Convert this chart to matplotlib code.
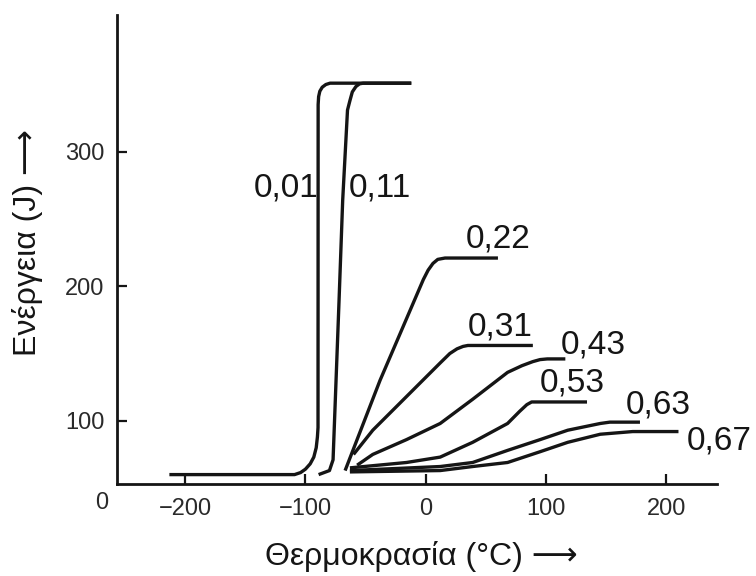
import matplotlib
matplotlib.use("Agg")
import matplotlib.pyplot as plt

plt.rcParams['font.family'] = ['Liberation Sans', 'DejaVu Sans']

# ---- data ----
labels = ["0,01", "0,11", "0,22", "0,31", "0,43", "0,53", "0,63", "0,67"]

t_001 = [-213, -109, -104, -100, -96, -93, -91, -90, -89.5, -89.4, -89, -88, -86, -83, -79.5, -12]
e_001 = [60, 60, 61.5, 64, 68, 73, 80, 88, 95, 335, 341, 345, 348, 350, 351, 351]

t_011 = [-89, -80, -77, -72, -69, -65, -63, -61, -58, -55, -52, -12]
e_011 = [60, 63, 71, 190, 264, 331, 338, 344.5, 348.5, 350.5, 351, 351]

t_022 = [-67, -38, -2, 2, 6, 10, 16, 60]
e_022 = [63, 130, 205, 212, 217, 220, 221, 221]

t_031 = [-60, -44, -16, 12, 20, 26, 31, 35, 89]
e_031 = [75, 93, 118, 143, 150, 153.5, 155.3, 156, 156]

t_043 = [-57, -44, -16, 12, 39, 68, 80, 89, 95, 101, 116]
e_043 = [67, 75, 86, 98, 116, 136, 141, 144, 145.5, 146, 146]

t_053 = [-63, -16, 12, 39, 68, 78, 84, 88, 134]
e_053 = [65, 69, 73, 84, 98, 107, 112, 114, 114]

t_063 = [-63, 12, 39, 68, 95, 118, 145, 153, 178]
e_063 = [63, 66, 69, 78, 86, 93, 98, 99, 99]

t_067 = [-63, 12, 39, 68, 95, 118, 145, 172, 181, 210]
e_067 = [62, 63, 66, 69, 77, 84, 90, 92, 92, 92]

label_t = [-143, -64, 33, 35, 112, 95, 166, 217]
label_e = [273, 273, 235, 170, 156, 128, 112, 85]

xticks = [-200, -100, 0, 100, 200]
xticklabels = ['\u2212200', '\u2212100', '0', '100', '200']
yticks = [100, 200, 300]

series_t = [t_001, t_011, t_022, t_031, t_043, t_053, t_063, t_067]
series_e = [e_001, e_011, e_022, e_031, e_043, e_053, e_063, e_067]

# ---- figure ----
fig = plt.figure(figsize=(7.56, 5.76), dpi=100)
ax = fig.add_axes([0.1548, 0.1597, 0.7936, 0.8143])

ink = '#151515'
for t, e in zip(series_t, series_e):
    ax.plot(t, e, color=ink, lw=2.4, solid_joinstyle='round', solid_capstyle='butt')

for lab, x, y in zip(labels, label_t, label_e):
    ax.text(x, y, lab, fontsize=24, ha='left', va='center', color=ink, clip_on=False)

ax.set_xlim(-256.5, 242)
ax.set_ylim(53, 401.7)

ax.spines['top'].set_visible(False)
ax.spines['right'].set_visible(False)
for s in ('left', 'bottom'):
    ax.spines[s].set_linewidth(2.0)
    ax.spines[s].set_color(ink)

ax.set_xticks(xticks)
ax.set_xticklabels(xticklabels)
ax.set_yticks(yticks)
ax.tick_params(direction='in', length=7, width=1.6, color=ink,
               labelsize=17, labelcolor='#2a2a2a')
ax.tick_params(axis='x', pad=10)
ax.tick_params(axis='y', pad=9)

# false origin label
ax.text(-0.026, -0.04, '0', transform=ax.transAxes, fontsize=17,
        ha='center', va='center', color='#2a2a2a')

fig.text(421 / 756, 1 - 556 / 576, 'Θερμοκρασία (°C) \u27f6', fontsize=23,
         ha='center', va='center', color=ink)
fig.text(28 / 756, 1 - 243 / 576, 'Ενέργεια (J) \u27f6', fontsize=23,
         ha='center', va='center', rotation=90, color=ink)

fig.savefig('out.png', dpi=100, facecolor='white')
